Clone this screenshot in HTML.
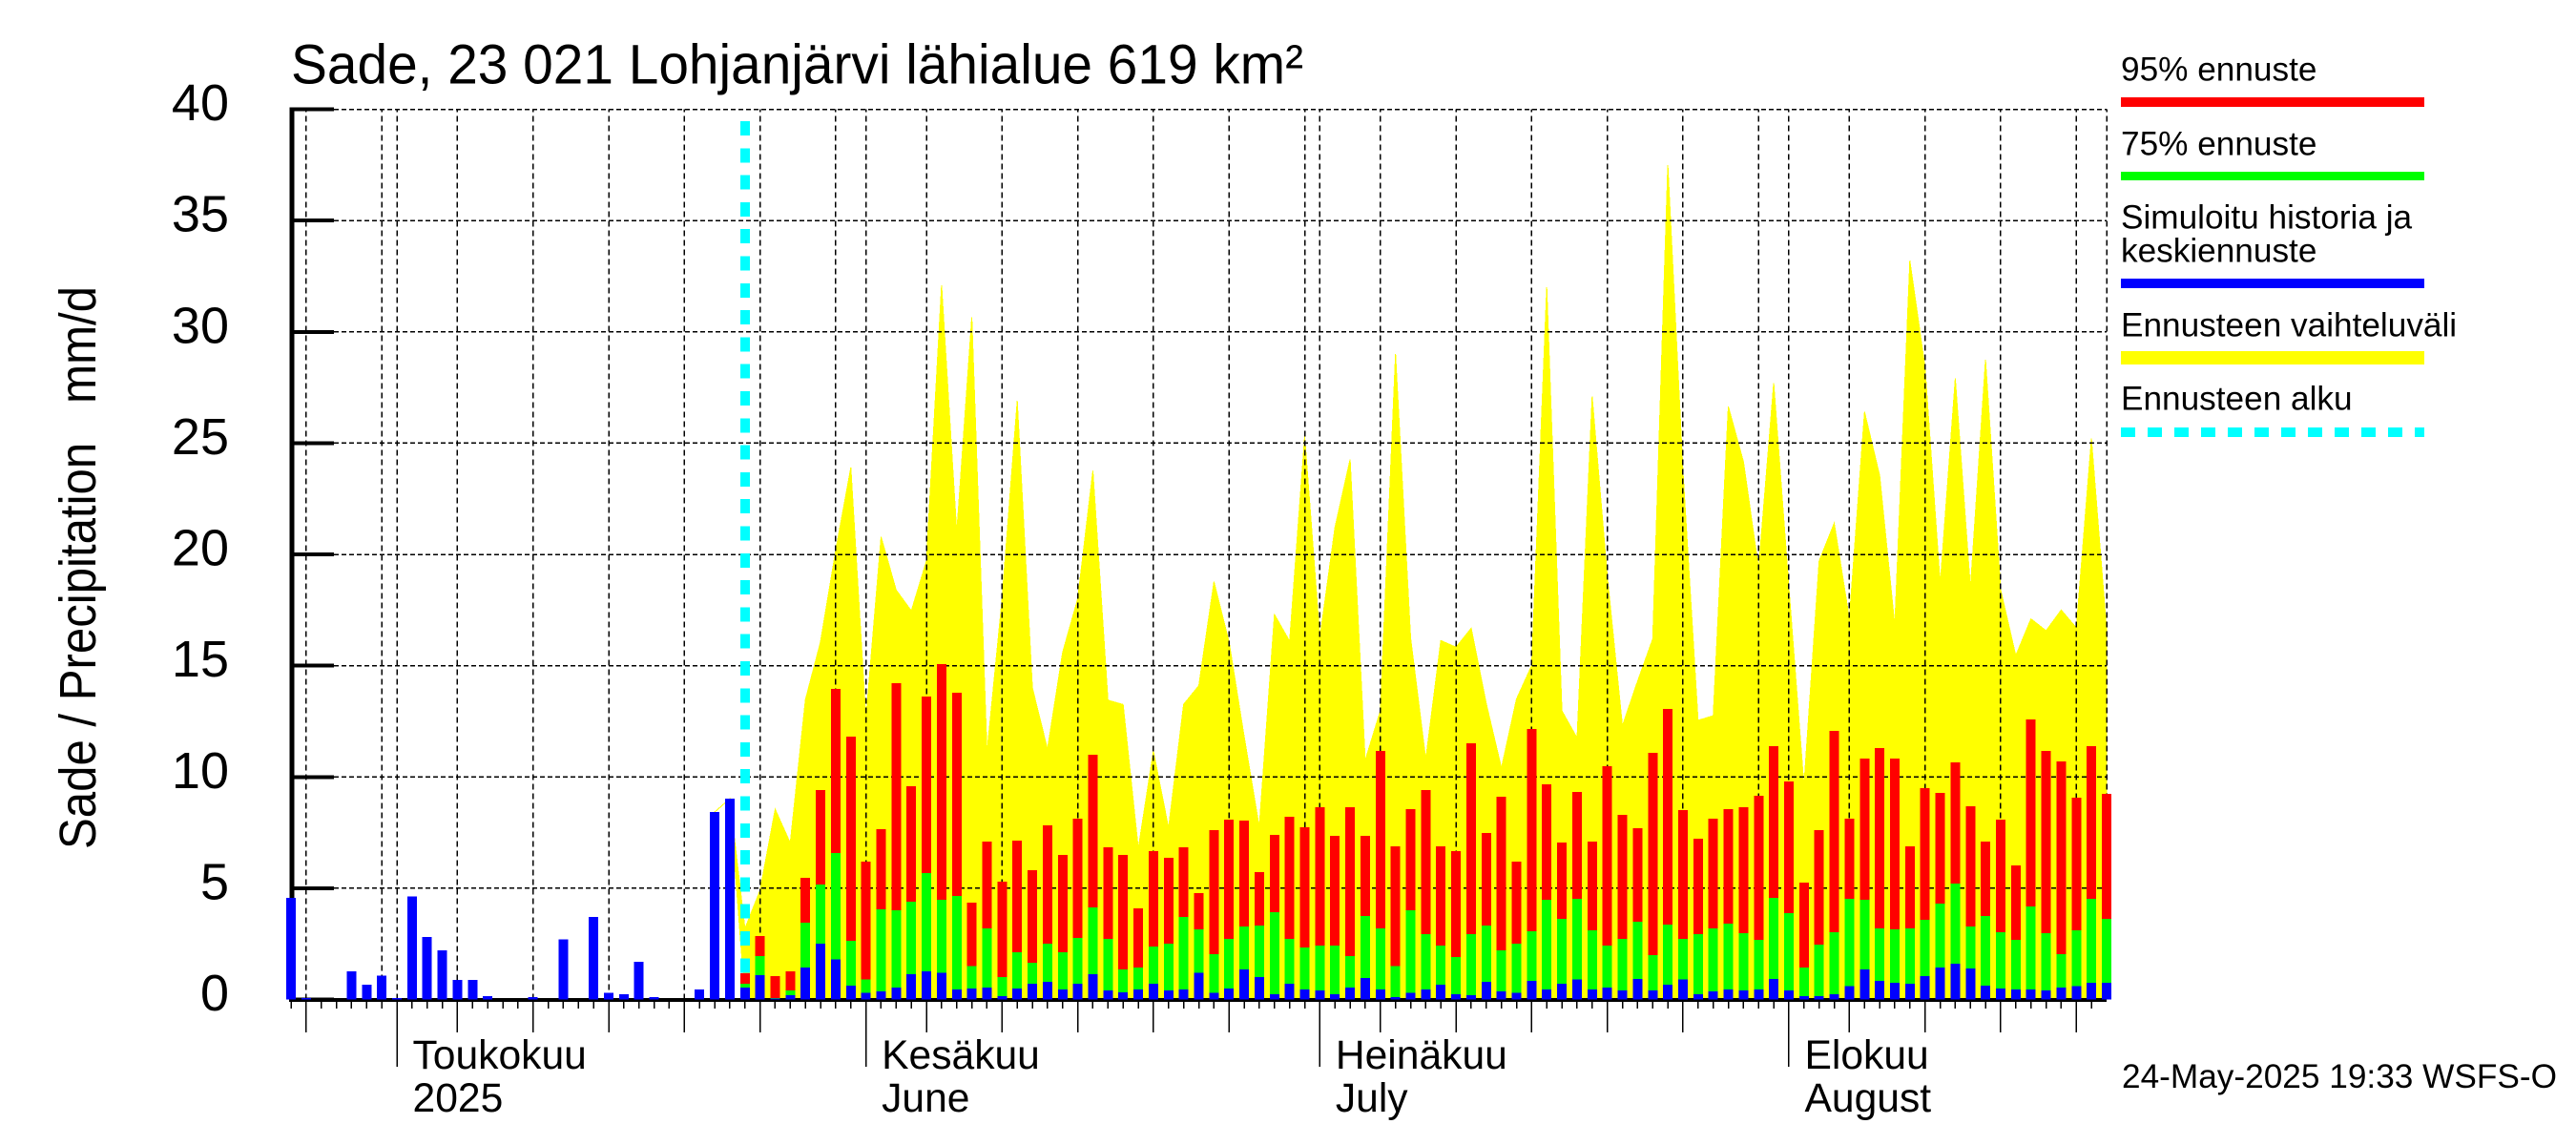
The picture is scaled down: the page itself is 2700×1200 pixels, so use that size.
<!DOCTYPE html>
<html lang="fi">
<head>
<meta charset="utf-8">
<title>Sade, 23 021 Lohjanjärvi lähialue 619 km²</title>
<style>
html,body{margin:0;padding:0;background:#fff;}
svg{display:block;}
text{font-family:"Liberation Sans",sans-serif;fill:#000;}
</style>
</head>
<body>
<svg id="chart" xmlns="http://www.w3.org/2000/svg" width="2700" height="1200" viewBox="0 0 2700 1200">
  <rect x="0" y="0" width="2700" height="1200" fill="#fff"/>
  <g id="plot"></g>
  <text x="305" y="87.5" font-size="58" textLength="1061" lengthAdjust="spacingAndGlyphs">Sade, 23 021 Lohjanjärvi lähialue 619 km²</text>
  <text transform="translate(100,890) rotate(-90) scale(1,1.15)" x="0" y="0" font-size="47" textLength="590" lengthAdjust="spacingAndGlyphs" xml:space="preserve">Sade / Precipitation   mm/d</text>
  <g>
    <g>
      <text x="2223" y="84.5" font-size="35.2">95% ennuste</text>
      <rect x="2223" y="102" width="318" height="10" fill="#ff0000"/>
    </g>
    <g>
      <text x="2223" y="162.5" font-size="35.2">75% ennuste</text>
      <rect x="2223" y="180" width="318" height="9" fill="#00ff00"/>
    </g>
    <g>
      <text x="2223" y="239.5" font-size="35.2">Simuloitu historia ja</text>
      <text x="2223" y="274.5" font-size="35.2">keskiennuste</text>
      <rect x="2223" y="292" width="318" height="10" fill="#0000ff"/>
    </g>
    <g>
      <text x="2223" y="352.5" font-size="35.2">Ennusteen vaihteluväli</text>
      <rect x="2223" y="368" width="318" height="14" fill="#ffff00"/>
    </g>
    <g>
      <text x="2223" y="429.5" font-size="35.2">Ennusteen alku</text>
      <line x1="2223" y1="453" x2="2541" y2="453" stroke="#00ffff" stroke-width="10" stroke-dasharray="15 13"/>
    </g>
  </g>
  <text x="2224" y="1140" font-size="35" textLength="456" lengthAdjust="spacingAndGlyphs">24-May-2025 19:33 WSFS-O</text>
</svg>
<script>
// Y axis ticks
var yTickValues = [0, 5, 10, 15, 20, 25, 30, 35, 40];
var yTickLabels = ['0', '5', '10', '15', '20', '25', '30', '35', '40'];

// X axis month labels
var monthStartDays = [7, 38, 68, 99];
var monthLabels = ['Toukokuu', 'Kesäkuu', 'Heinäkuu', 'Elokuu'];
var monthSubLabels = ['2025', 'June', 'July', 'August'];

// Simulated history and mean forecast, mm/d: 24 Apr .. 22 Aug 2025
var simulatedMm = [
  4.56, 0.07, 0, 0, 1.26, 0.66, 1.08, 0.07, 4.64, 2.8, 2.2, 0.87, 0.87, 0.15, 0, 0, 0.1, 0, 2.7, 0, 3.7, 0.31, 0.23, 1.69, 0.1, 0, 0, 0.44, 8.42, 9.02,
  0.54, 1.1, 0.04, 0.2, 1.44, 2.51, 1.79, 0.63, 0.29, 0.37, 0.54, 1.14, 1.27, 1.19, 0.46, 0.5, 0.54, 0.16, 0.5, 0.71, 0.8, 0.46, 0.71, 1.14, 0.41, 0.33, 0.46, 0.71, 0.41, 0.46, 1.19, 0.29, 0.5, 1.36, 1.01, 0.24, 0.71, 0.46, 0.41, 0.24, 0.54, 0.97, 0.46, 0.11, 0.29, 0.46, 0.67, 0.24, 0.2, 0.8, 0.37, 0.29, 0.84, 0.46, 0.71, 0.89, 0.46, 0.54, 0.41, 0.93, 0.41, 0.67, 0.89, 0.24, 0.37, 0.46, 0.41, 0.46, 0.93, 0.41, 0.16, 0.16, 0.24, 0.59, 1.36, 0.84, 0.76, 0.71, 1.06, 1.44, 1.61, 1.4, 0.63, 0.5, 0.46, 0.46, 0.41, 0.54, 0.59, 0.76, 0.76
];

// 75% forecast, mm/d: 24 May .. 22 Aug
var forecast75Mm = [
  0.71, 1.96, 0.07, 0.41, 3.46, 5.17, 6.59, 2.64, 0.89, 4.06, 4.01, 4.4, 5.69, 4.49, 4.66, 1.49, 3.2, 1.01, 2.13, 1.66, 2.51, 2.13, 2.77, 4.14, 2.73, 1.36, 1.44, 2.39, 2.51, 3.71, 3.16, 2.04, 2.73, 3.29, 3.33, 3.93, 2.73, 2.34, 2.43, 2.43, 1.96, 3.76, 3.2, 1.49, 4.01, 2.94, 2.43, 1.91, 2.94, 3.33, 2.21, 2.51, 3.07, 4.49, 3.63, 4.53, 3.11, 2.43, 2.73, 3.5, 2.0, 3.37, 2.73, 2.94, 3.2, 3.41, 2.99, 2.69, 4.57, 3.89, 1.44, 2.47, 3.03, 4.53, 4.49, 3.2, 3.16, 3.2, 3.59, 4.31, 5.21, 3.29, 3.76, 3.03, 2.69, 4.19, 2.99, 2.04, 3.11, 4.53, 3.63
];

// 95% forecast, mm/d: 24 May .. 22 Aug
var forecast95Mm = [
  1.18, 2.86, 1.06, 1.27, 5.47, 9.41, 13.96, 11.81, 6.2, 7.66, 14.21, 9.59, 13.61, 15.06, 13.79, 4.36, 7.1, 5.3, 7.14, 5.81, 7.83, 6.5, 8.13, 11.0, 6.84, 6.5, 4.1, 6.67, 6.37, 6.84, 4.79, 7.61, 8.09, 8.04, 5.73, 7.4, 8.21, 7.74, 8.64, 7.36, 8.64, 7.36, 11.17, 6.89, 8.56, 9.41, 6.89, 6.67, 11.51, 7.49, 9.11, 6.2, 12.16, 9.67, 7.06, 9.33, 7.1, 10.49, 8.3, 7.7, 11.09, 13.06, 8.51, 7.23, 8.13, 8.56, 8.64, 9.16, 11.39, 9.8, 5.26, 7.61, 12.07, 8.13, 10.83, 11.3, 10.83, 6.89, 9.5, 9.29, 10.66, 8.69, 7.1, 8.09, 6.03, 12.59, 11.17, 10.7, 9.07, 11.39, 9.24
];

// Forecast range upper edge, mm/d: 22 May .. 22 Aug
var rangeTopMm = [
  8.42, 9.02, 3.19, 4.9, 8.55, 7.03, 13.47, 16.07, 20.17, 23.9, 12.6, 20.78, 18.4, 17.46, 19.7, 32.1, 20.97, 30.66, 11.1, 18.0, 26.9, 14.0, 11.25, 15.6, 18.0, 23.76, 13.45, 13.25, 6.78, 11.16, 7.71, 13.26, 14.1, 18.77, 16.07, 11.8, 7.75, 17.3, 16.1, 25.3, 16.25, 21.2, 24.27, 10.75, 12.97, 29.0, 16.26, 10.8, 16.13, 15.83, 16.68, 13.3, 10.4, 13.5, 15.0, 32.0, 12.97, 11.75, 27.1, 19.0, 12.3, 14.3, 16.2, 37.5, 23.7, 12.54, 12.75, 26.65, 24.16, 19.36, 27.7, 18.5, 9.6, 19.7, 21.4, 17.1, 26.4, 23.55, 16.8, 33.2, 28.4, 18.66, 27.9, 18.47, 28.75, 18.4, 15.45, 17.1, 16.57, 17.5, 16.7, 25.2, 16.6
];

// Forecast range lower edge, mm/d: 22 May .. 22 Aug
var rangeBottomMm = [
  8.42, 9.02, 0.05, 0, 0, 0, 0, 0, 0, 0, 0, 0, 0, 0, 0, 0, 0, 0, 0, 0, 0, 0, 0, 0, 0, 0, 0, 0, 0, 0, 0, 0, 0, 0, 0, 0, 0, 0, 0, 0, 0, 0, 0, 0, 0, 0, 0, 0, 0, 0, 0, 0, 0, 0, 0, 0, 0, 0, 0, 0, 0, 0, 0, 0, 0, 0, 0, 0, 0, 0, 0, 0, 0, 0, 0, 0, 0, 0, 0, 0, 0, 0, 0, 0, 0, 0, 0, 0, 0, 0, 0, 0, 0
];

var forecastStartDay = 30;
var rangeStartDay = 28;
var lastDay = 120;
var startDateUTC = Date.UTC(2025, 3, 24);

var NS = 'http://www.w3.org/2000/svg';
var plot = document.getElementById('plot');
var PLOT_LEFT = 305, PLOT_RIGHT = 2208, Y_ZERO = 1047.5, Y_TOP = 114.5;

function xScale(day) { return PLOT_LEFT + day * (PLOT_RIGHT - PLOT_LEFT) / lastDay; }
function yScale(mm) { return Y_ZERO - mm * (Y_ZERO - Y_TOP) / 40; }
function make(tag, attrs, parent) {
  var el = document.createElementNS(NS, tag);
  for (var k in attrs) { el.setAttribute(k, attrs[k]); }
  (parent || plot).appendChild(el);
  return el;
}

// Forecast range area
var rangePoints = [];
rangeTopMm.forEach(function (v, i) {
  rangePoints.push(xScale(rangeStartDay + i).toFixed(1) + ',' + yScale(v).toFixed(1));
});
for (var b = rangeBottomMm.length - 1; b >= 0; b--) {
  rangePoints.push(xScale(rangeStartDay + b).toFixed(1) + ',' + yScale(rangeBottomMm[b]).toFixed(1));
}
var rangeArea = make('polygon', { points: rangePoints.join(' '), fill: '#ffff00', stroke: '#ffff00', 'stroke-width': 1, 'shape-rendering': 'crispEdges' });



// Horizontal grid
yTickValues.forEach(function (v) {
  if (v === 0) { return; }
  var gridH = make('line', { x1: 350, x2: xScale(lastDay), y1: yScale(v), y2: yScale(v), stroke: '#000', 'stroke-width': 1.5, 'stroke-dasharray': '5 3', 'shape-rendering': 'crispEdges' });
  
  
});

// Vertical grid and x ticks
for (var day = 0; day <= lastDay; day++) {
  var dom = new Date(startDateUTC + day * 86400000).getUTCDate();
  var isMonth = dom === 1;
  var isFive = dom % 5 === 0;
  var x = xScale(day);
  if (isMonth || isFive || day === lastDay) {
    var gridV = make('line', { x1: x, x2: x, y1: Y_ZERO, y2: Y_TOP, stroke: '#000', 'stroke-width': 1.5, 'stroke-dasharray': '6 4', 'shape-rendering': 'crispEdges' });
    
    
  }
  var tickEnd = isMonth ? 1118 : (isFive && dom !== 30 ? 1082 : 1057);
  if (day < lastDay) {
    var tick = make('line', { x1: x, x2: x, y1: 1048, y2: tickEnd, stroke: '#000', 'stroke-width': 1.5, 'shape-rendering': 'crispEdges' });
    
    
  }
}

// Forecast start marker
var startLine = make('line', { x1: xScale(forecastStartDay), x2: xScale(forecastStartDay), y1: 127, y2: Y_ZERO, stroke: '#00ffff', 'stroke-width': 10, 'stroke-dasharray': '15 13.3', 'shape-rendering': 'crispEdges' });



// Axes
var yAxis = make('rect', { x: 303.5, y: Y_TOP - 2, width: 5, height: Y_ZERO - Y_TOP + 4, fill: '#000', 'shape-rendering': 'crispEdges' });


var xAxis = make('rect', { x: 303, y: 1046, width: xScale(lastDay) - 303, height: 4, fill: '#000', 'shape-rendering': 'crispEdges' });



// Y ticks and labels
yTickValues.forEach(function (v, i) {
  var yTick = make('rect', { x: 305, y: yScale(v) - 2, width: 45, height: 4, fill: '#000', 'shape-rendering': 'crispEdges' });
  
  
  var yLabel = make('text', { x: 240, y: yScale(v) + 11.5, 'font-size': 54, 'text-anchor': 'end' });
  
  
  yLabel.textContent = yTickLabels[i];
});

// Month labels
monthStartDays.forEach(function (d, i) {
  var monthLabel = make('text', { x: xScale(d) + 16.5, y: 1120, 'font-size': 42.6 });
  
  
  monthLabel.textContent = monthLabels[i];
  var subLabel = make('text', { x: xScale(d) + 16.5, y: 1165, 'font-size': 42.6 });
  
  
  subLabel.textContent = monthSubLabels[i];
});

// Bars
function bar(day, mm, color) {
  var top = yScale(mm);
  var r = make('rect', { x: xScale(day) - 5, y: top, width: 10, height: Math.max(0, Y_ZERO - top), fill: color, 'shape-rendering': 'crispEdges' });
  return r;
}
forecast95Mm.forEach(function (v, i) {
  var redBar = bar(forecastStartDay + i, v, '#ff0000');
  
  
});
forecast75Mm.forEach(function (v, i) {
  var greenBar = bar(forecastStartDay + i, v, '#00ff00');
  
  
});
simulatedMm.forEach(function (v, i) {
  if (v <= 0) { return; }
  var blueBar = bar(i, v, '#0000ff');
  
  
});
</script>
</body>
</html>
